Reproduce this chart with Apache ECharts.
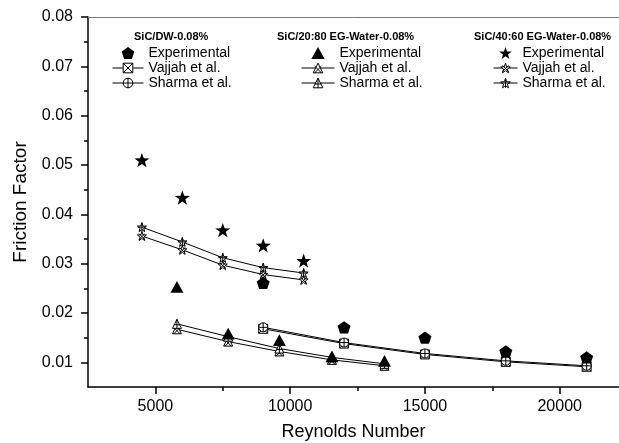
<!DOCTYPE html>
<html>
<head>
<meta charset="utf-8">
<script src="https://cdn.jsdelivr.net/npm/echarts@6/dist/echarts.min.js"></script>
<style>
  html, body { margin: 0; padding: 0; background: #fff; }
  #main { width: 619px; height: 443px; }
</style>
</head>
<body>
<div id="main"></div>
<script>
const reDW = [9000, 12000, 15000, 18000, 21000];
const expDW = [0.0261, 0.0171, 0.0150, 0.0122, 0.0110];
const vajjahDW = [0.0168, 0.0138, 0.0116, 0.0101, 0.0091];
const sharmaDW = [0.0171, 0.0140, 0.0118, 0.0103, 0.0093];

const re2080 = [5800, 7700, 9600, 11550, 13500];
const exp2080 = [0.0253, 0.0158, 0.0145, 0.0112, 0.0103];
const vajjah2080 = [0.0167, 0.0142, 0.0122, 0.0105, 0.0093];
const sharma2080 = [0.0178, 0.0152, 0.0128, 0.0110, 0.0097];

const re4060 = [4500, 6000, 7500, 9000, 10500];
const exp4060 = [0.0510, 0.0434, 0.0368, 0.0337, 0.0306];
const vajjah4060 = [0.0356, 0.0328, 0.0297, 0.0278, 0.0267];
const sharma4060 = [0.0374, 0.0344, 0.0312, 0.0292, 0.0281];

const xMajor = [5000, 10000, 15000, 20000];
const xMinor = [7500, 12500, 17500];
const yMajor = [0.01, 0.02, 0.03, 0.04, 0.05, 0.06, 0.07, 0.08];
const yMinor = [0.015, 0.025, 0.035, 0.045, 0.055, 0.065, 0.075];

const groupTitles = ['SiC/DW-0.08%', 'SiC/20:80 EG-Water-0.08%', 'SiC/40:60 EG-Water-0.08%'];

// marker shapes
const starPath = 'M5,0L6.18,3.38L9.76,3.46L6.9,5.62L7.94,9.05L5,7L2.06,9.05L3.1,5.62L0.24,3.46L3.82,3.38Z';
const pentagon = 'path://M5,0L9.76,3.45L7.94,9.05L2.06,9.05L0.24,3.45Z';
const triFill = 'path://M5,0L10,9H0Z';
const starFill = 'path://' + starPath;
const sqX = 'path://M0,0H10V10H0Z M0,0L10,10 M10,0L0,10';
const circPlus = 'path://M0,5A5,5 0 1 1 10,5A5,5 0 1 1 0,5Z M5,0V10 M0,5H10';
const triX = 'path://M5,0L10,10H0Z M1.5,3L8.5,10 M8.5,3L1.5,10';
const triPlus = 'path://M5,0L10,10H0Z M5,0V10 M1.5,6H8.5';
const starX = 'path://' + starPath + ' M2,2L8,8 M8,2L2,8';
const starPlus = 'path://' + starPath + ' M5,0V9 M0.5,4.5H9.5';

function pairs(xs, ys) {
  return xs.map((x, i) => [x, ys[i]]);
}

function expSeries(name, xs, ys, symbol, size) {
  return {
    name: name,
    type: 'scatter',
    data: pairs(xs, ys),
    symbol: symbol,
    symbolSize: size,
    symbolKeepAspect: true,
    itemStyle: { color: '#000', opacity: 1 },
    z: 5
  };
}

function modelSeries(name, xs, ys, symbol) {
  return {
    name: name,
    type: 'line',
    data: pairs(xs, ys),
    symbol: symbol,
    symbolSize: 9,
    showAllSymbol: true,
    lineStyle: { color: '#000', width: 1 },
    itemStyle: { color: '#fff', borderColor: '#000', borderWidth: 1 },
    z: 3
  };
}

var myChart = echarts.init(document.getElementById('main'));

const font = 'Liberation Sans, Arial, sans-serif';

function legendBox(left, width, key) {
  const open = { color: '#fff', borderColor: '#000', borderWidth: 1 };
  return {
    orient: 'vertical',
    left: left,
    top: 46,
    itemWidth: width,
    itemHeight: 12,
    itemGap: 1,
    padding: 0,
    selectedMode: false,
    data: [
      { name: key + '|Experimental', itemStyle: { color: '#000', opacity: 1 } },
      { name: key + '|Vajjah et al.', itemStyle: open, lineStyle: { color: '#000', width: 1 } },
      { name: key + '|Sharma et al.', itemStyle: open, lineStyle: { color: '#000', width: 1 } }
    ],
    formatter: function (n) { return n.split('|')[1]; },
    textStyle: { fontFamily: font, fontSize: 14, color: '#000' }
  };
}

var option = {
  animation: false,
  backgroundColor: '#fff',
  title: [
    { text: groupTitles[0], left: 134, top: 31, padding: 0, textStyle: { fontFamily: font, fontSize: 11, fontWeight: 'bold', color: '#000' } },
    { text: groupTitles[1], left: 277, top: 31, padding: 0, textStyle: { fontFamily: font, fontSize: 11, fontWeight: 'bold', color: '#000' } },
    { text: groupTitles[2], left: 474, top: 31, padding: 0, textStyle: { fontFamily: font, fontSize: 11, fontWeight: 'bold', color: '#000' } }
  ],
  legend: [
    legendBox(112, 31, 'DW'),
    legendBox(301, 33, '2080'),
    legendBox(493, 24, '4060')
  ],
  grid: { left: 88, right: 0, top: 17, bottom: 56, containLabel: false, outerBoundsMode: 'none' },
  xAxis: [
    {
      type: 'value', min: 2500, max: 22200, position: 'bottom',
      name: 'Reynolds Number', nameLocation: 'middle', nameGap: 36,
      nameTextStyle: { fontFamily: font, fontSize: 18, color: '#000' },
      axisLine: { lineStyle: { color: '#000', width: 1.5 } },
      axisTick: { customValues: xMajor, length: 7, lineStyle: { color: '#000', width: 1.5 } },
      axisLabel: { customValues: xMajor, margin: 12, fontFamily: font, fontSize: 16, color: '#000',
        formatter: function (v) { return String(v); } },
      splitLine: { show: false }
    },
    {
      type: 'value', min: 2500, max: 22200, position: 'bottom',
      axisLine: { show: false },
      axisTick: { customValues: xMinor, length: 4, lineStyle: { color: '#000', width: 1.5 } },
      axisLabel: { show: false },
      splitLine: { show: false }
    },
    {
      type: 'value', min: 2500, max: 22200, position: 'top',
      axisLine: { lineStyle: { color: '#777', width: 1 } },
      axisTick: { show: false },
      axisLabel: { show: false },
      splitLine: { show: false }
    }
  ],
  yAxis: [
    {
      type: 'value', min: 0.005, max: 0.08,
      name: 'Friction Factor', nameLocation: 'middle', nameGap: 58,
      nameTextStyle: { fontFamily: font, fontSize: 19, color: '#000' },
      axisLine: { show: true, lineStyle: { color: '#000', width: 1.5 } },
      axisTick: { show: true, customValues: yMajor, length: 7, lineStyle: { color: '#000', width: 1.5 } },
      axisLabel: { customValues: yMajor, margin: 15, fontFamily: font, fontSize: 16, color: '#000',
        formatter: function (v) { return v.toFixed(2); } },
      splitLine: { show: false }
    },
    {
      type: 'value', min: 0.005, max: 0.08, position: 'left',
      axisLine: { show: false },
      axisTick: { show: true, customValues: yMinor, length: 4, lineStyle: { color: '#000', width: 1.5 } },
      axisLabel: { show: false },
      splitLine: { show: false }
    }
  ],
  series: [
    modelSeries('DW|Vajjah et al.', reDW, vajjahDW, sqX),
    modelSeries('DW|Sharma et al.', reDW, sharmaDW, circPlus),
    modelSeries('2080|Vajjah et al.', re2080, vajjah2080, triX),
    modelSeries('2080|Sharma et al.', re2080, sharma2080, triPlus),
    modelSeries('4060|Vajjah et al.', re4060, vajjah4060, starX),
    modelSeries('4060|Sharma et al.', re4060, sharma4060, starPlus),
    expSeries('DW|Experimental', reDW, expDW, pentagon, 13),
    expSeries('2080|Experimental', re2080, exp2080, triFill, 13),
    expSeries('4060|Experimental', re4060, exp4060, starFill, 15)
  ]
};

myChart.setOption(option);
</script>
</body>
</html>
